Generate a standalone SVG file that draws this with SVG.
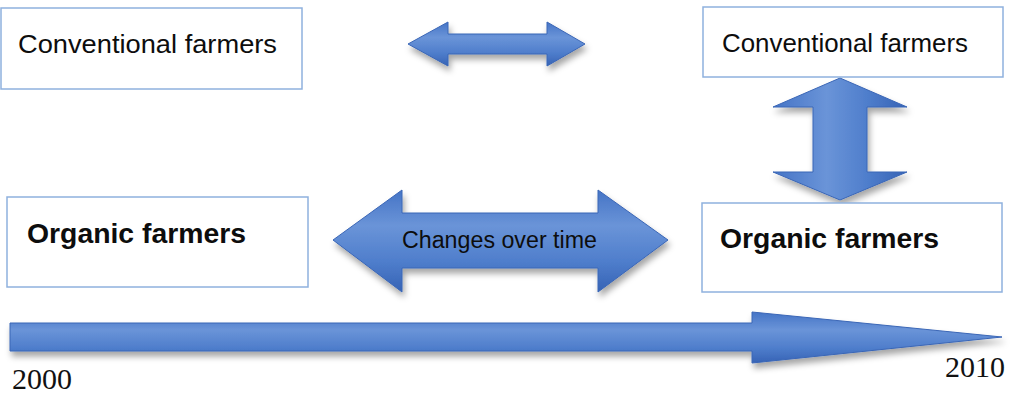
<svg xmlns="http://www.w3.org/2000/svg" width="1010" height="394" viewBox="0 0 1010 394">
  <defs>
    <linearGradient id="gh" x1="0" y1="0" x2="0" y2="1">
      <stop offset="0" stop-color="#4574c6"/>
      <stop offset="0.35" stop-color="#6a94d8"/>
      <stop offset="0.7" stop-color="#4f7ecc"/>
      <stop offset="1" stop-color="#3663b5"/>
    </linearGradient>
    <linearGradient id="gv" x1="0" y1="0" x2="1" y2="0">
      <stop offset="0" stop-color="#4574c6"/>
      <stop offset="0.4" stop-color="#6a94d8"/>
      <stop offset="0.7" stop-color="#4f7ecc"/>
      <stop offset="1" stop-color="#3663b5"/>
    </linearGradient>
    <filter id="sh" x="-10%" y="-20%" width="120%" height="150%">
      <feDropShadow dx="2" dy="5" stdDeviation="3" flood-color="#000" flood-opacity="0.35"/>
    </filter>
  </defs>
  <style>
    .box { fill: #ffffff; stroke: #8fb1de; stroke-width: 1.5; }
    .arrow { stroke: #3a66b6; stroke-width: 1; stroke-linejoin: miter; filter: url(#sh); }
    .lbl { font-family: "Liberation Sans", Arial, sans-serif; fill: #0d0d0d; }
    .bold { font-weight: bold; }
    .year { font-family: "Liberation Serif", "DejaVu Serif", serif; fill: #111; font-size: 29px; }
  </style>
  <rect width="1010" height="394" fill="#ffffff"/>

  <g id="connectors">
    <path class="arrow" fill="url(#gh)" d="M408,44 L448,22 L448,34 L547,34 L547,22 L585,44 L547,66 L547,54 L448,54 L448,66 Z"/>
    <path class="arrow" fill="url(#gh)" d="M333,240 L402,190 L402,213 L598,213 L598,190 L668,240 L598,292 L598,268 L402,268 L402,292 Z"/>
    <path class="arrow" fill="url(#gv)" d="M840,78 L907,107 L867,107 L867,172 L907,172 L840,200 L773,172 L813,172 L813,107 L773,107 Z"/>
    <path class="arrow" fill="url(#gh)" d="M10,323 L752,323 L752,312 L1002,337 L752,363 L752,351 L10,351 Z"/>
  </g>

  <g id="conv-2000">
    <rect class="box" x="1" y="8" width="301" height="81"/>
    <text class="lbl" x="18" y="53" font-size="26" textLength="259" lengthAdjust="spacingAndGlyphs">Conventional farmers</text>
  </g>
  <g id="conv-2010">
    <rect class="box" x="703" y="7" width="300" height="70"/>
    <text class="lbl" x="722" y="52" font-size="25" textLength="246" lengthAdjust="spacingAndGlyphs">Conventional farmers</text>
  </g>
  <g id="org-2000">
    <rect class="box" x="7" y="197" width="301" height="90"/>
    <text class="lbl bold" x="27" y="243" font-size="28" textLength="219" lengthAdjust="spacingAndGlyphs">Organic farmers</text>
  </g>
  <g id="org-2010">
    <rect class="box" x="702" y="203" width="300" height="89"/>
    <text class="lbl bold" x="720" y="248" font-size="28" textLength="219" lengthAdjust="spacingAndGlyphs">Organic farmers</text>
  </g>
  <g id="changes-label">
    <text class="lbl" x="402" y="248" font-size="23" textLength="195" lengthAdjust="spacingAndGlyphs">Changes over time</text>
  </g>
  <g id="year-2000">
    <text class="year" x="12" y="389" textLength="60" lengthAdjust="spacingAndGlyphs">2000</text>
  </g>
  <g id="year-2010">
    <text class="year" x="945" y="377" textLength="60" lengthAdjust="spacingAndGlyphs">2010</text>
  </g>
</svg>
